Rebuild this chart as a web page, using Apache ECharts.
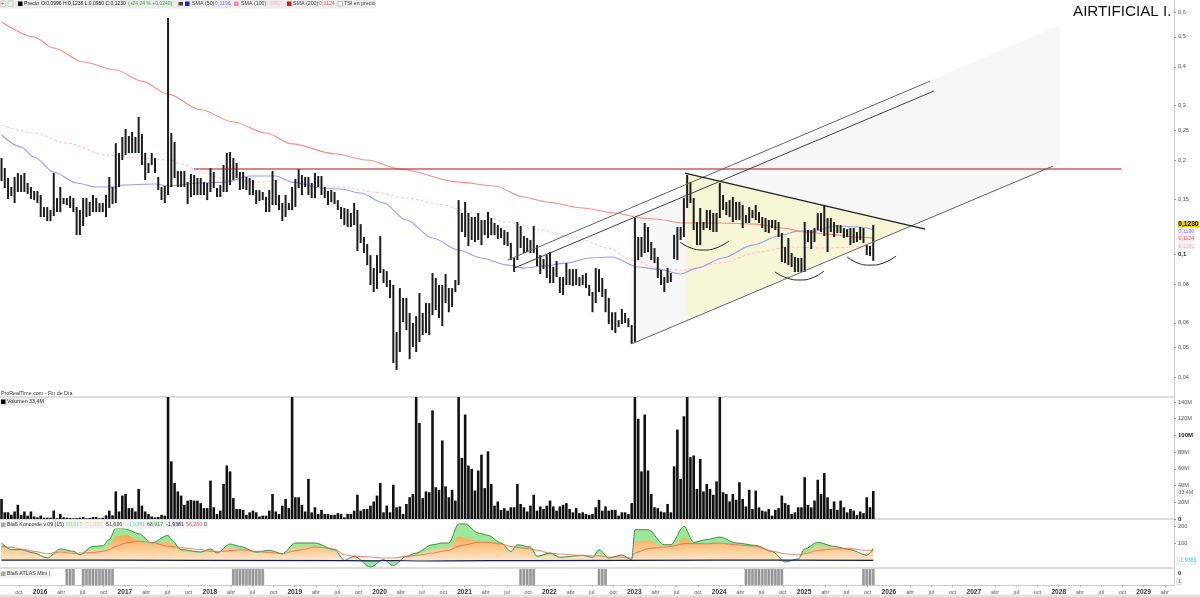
<!DOCTYPE html>
<html>
<head>
<meta charset="utf-8">
<style>html,body{margin:0;padding:0;background:#fff}#main{width:1200px;height:597px}</style>
<script src="https://cdn.jsdelivr.net/npm/echarts@6/dist/echarts.min.js"></script>
</head>
<body>
<div id="main"></div>
<script>
// barras quincenales, 26 por año
var startYear = 2015.546;
function yr(i) { return startYear + i / 26; }

var highs = [
.2035,.1890,.1755,.1642,.1768,.1821,.1794,.1821,.1691,.1642,
.1594,.1594,.1547,.1415,.1415,.1384,.1821,.1513,.1642,.1513,
.1513,.1536,.1513,.1415,.1384,.1513,.1513,.1469,.1547,.1513,
.1458,.1458,.1547,.1768,.1642,.2274,.2113,.2378,.2524,.2396,
.2470,.2378,.2759,.2431,.2113,.1961,.2113,.2035,.1768,.1642,
.1654,.5750,.2449,.2292,.1848,.1848,.1848,.1703,.1808,.1794,
.1755,.1755,.1703,.1691,.1890,.1835,.1630,.1666,.1932,.2113,
.2129,.2035,.1961,.1835,.1835,.1768,.1755,.1729,.1605,.1605,
.1582,.1524,.1605,.1848,.1729,.1547,.1458,.1547,.1458,.1642,
.1742,.1876,.1794,.1768,.1768,.1691,.1821,.1781,.1781,.1642,
.1594,.1605,.1582,.1490,.1415,.1405,.1394,.1354,.1458,.1384,
.1247,.1133,.1076,.0991,.0900,.0991,.1141,.0893,.0880,.0824,
.0794,.0560,.0776,.0721,.0721,.0645,.0599,.0630,.0748,.0645,
.0694,.0694,.0867,.0836,.0794,.0794,.0861,.0776,.0776,.0824,
.1490,.1354,.1469,.1354,.1314,.1314,.1354,.1285,.1285,.1364,
.1304,.1257,.1238,.1211,.1193,.1176,.1084,.0970,.1266,.1229,
.1141,.1125,.1108,.1229,.1067,.0991,.0962,.0991,.1013,.0907,
.0948,.0842,.0842,.0934,.0893,.0893,.0893,.0842,.0855,.0867,
.0794,.0754,.0900,.0893,.0836,.0771,.0721,.0649,.0649,.0612,
.0664,.0645,.0621,.0590,.1304,.1133,.1133,.1257,.1220,.1092,
.1044,.0977,.0887,.0842,.0900,.0867,.1150,.1220,.1220,.1513,
.1794,.1703,.1513,.1266,.1405,.1266,.1384,.1384,.1354,.1354,
.1691,.1547,.1469,.1490,.1524,.1469,.1469,.1436,.1333,.1415,
.1384,.1436,.1364,.1314,.1304,.1285,.1285,.1285,.1266,.1167,
.1052,.1125,.1006,.0977,.0970,.0970,.1266,.1193,.1193,.1211,
.1354,.1354,.1436,.1304,.1304,.1266,.1238,.1238,.1211,.1202,
.1211,.1211,.1176,.1220,.1211,.1067,.1060,.1238];

var lows = [
.1716,.1630,.1502,.1536,.1458,.1582,.1582,.1582,.1559,.1502,
.1490,.1458,.1314,.1314,.1276,.1276,.1324,.1364,.1364,.1447,
.1436,.1405,.1364,.1150,.1150,.1229,.1314,.1324,.1364,.1364,
.1364,.1364,.1314,.1405,.1447,.1458,.1642,.2005,.2081,.2113,
.2113,.2113,.2113,.1932,.1729,.1821,.1932,.1821,.1605,.1490,
.1458,.1547,.1642,.1755,.1642,.1642,.1642,.1447,.1524,.1547,
.1547,.1547,.1547,.1490,.1582,.1630,.1524,.1524,.1582,.1582,
.1666,.1729,.1755,.1605,.1618,.1605,.1547,.1547,.1447,.1480,
.1490,.1364,.1364,.1436,.1436,.1384,.1276,.1314,.1384,.1384,
.1415,.1630,.1547,.1642,.1547,.1513,.1513,.1642,.1547,.1513,
.1436,.1469,.1447,.1384,.1295,.1238,.1220,.1220,.1238,.1021,
.1084,.1006,.0920,.0794,.0754,.0771,.0867,.0806,.0782,.0721,
.0445,.0423,.0483,.0603,.0568,.0458,.0501,.0483,.0520,.0548,
.0556,.0548,.0635,.0659,.0621,.0585,.0694,.0649,.0674,.0754,
.0794,.1176,.1133,.1060,.1108,.1092,.1108,.1067,.1150,.1125,
.1150,.1150,.1116,.1125,.1067,.1060,.0955,.0874,.0955,.1044,
.1006,.1013,.1006,.1006,.0914,.0861,.0893,.0836,.0806,.0806,
.0842,.0748,.0737,.0794,.0794,.0788,.0794,.0788,.0794,.0776,
.0732,.0649,.0694,.0754,.0726,.0649,.0594,.0568,.0556,.0581,
.0594,.0599,.0581,.0513,.0520,.0955,.0977,.1006,.1013,.0955,
.0934,.0836,.0794,.0754,.0806,.0812,.0962,.0955,.1108,.1133,
.1405,.1458,.1193,.1067,.1067,.1193,.1211,.1193,.1176,.1176,
.1304,.1384,.1333,.1314,.1266,.1285,.1285,.1211,.1257,.1257,
.1304,.1285,.1257,.1211,.1176,.1167,.1211,.1193,.1133,.0941,
.0934,.0920,.0907,.0874,.0874,.0874,.0874,.1092,.1036,.1092,
.1193,.1176,.1141,.1013,.1176,.1133,.1167,.1167,.1125,.1133,
.1067,.1084,.1092,.1108,.1084,.0991,.0984,.0950];

// volumen en millones (los picos se salen del panel)
var volumes = [
24,8,8,5,9,17,5,9,4,9,
3,2,4,1.6,1.6,1.6,10,1,6,2,
1.6,1.2,.8,1.2,1.6,2.4,.8,1.2,2.4,2.4,
.8,1.6,4.4,10,4.4,33,9,28,30,13,
13,9,36,16,9,6,3,2,2.4,5,
4,170,69,43,33,28,17,22,23,22,
22,19,13,13,46,14,6,10,42,64,
57,25,12,12,11,5,8,10,8,3,
4,4,10,30,9,6,16,24,13,170,
26,26,17,9,48,8,14,6,11,6,
6,5,5,7,6,2,6,6,10,29,
10,12,12,16,21,28,43,8,16,8,
41,14,15,6,18,26,30,170,115,25,
33,32,130,38,35,94,39,26,35,22,
170,73,125,64,60,34,58,77,37,81,
42,16,21,11,13,10,14,14,42,18,
14,9,16,29,10,15,12,16,22,15,
10,15,17,19,12,8,13,7,8,6,
5,6,14,23,10,15,10,11,11,4,
8,8,6,19,170,120,57,125,58,30,
14,13,9,8,18,8,63,107,48,123,
170,74,76,36,72,33,42,36,29,45,
170,32,30,21,30,23,44,24,15,35,
12,34,14,10,9,12,4,11,13,28,
19,17,6,8,14,14,50,17,14,22,
47,30,55,26,12,21,11,22,14,8,
12,10,5,9,7,26,14,33.4];

// medias moviles: indice de barra y precio
var sma200Idx = [0,10,16,25,35,43,51,61,71,81,89,102,112,122,140,151,160,167,178,188,196,200,209,220,231,239,246,253,261,267];
var sma200 = [.558,.499,.460,.415,.391,.360,.327,.291,.266,.245,.226,.210,.2005,.1876,.1703,.1654,.1524,.1469,.1405,.1354,.1304,.1295,.1257,.1257,.1247,.1211,.1176,.1158,.1133,.1124];
var sma50Idx = [0,6,10,16,23,29,35,37,47,51,61,69,76,84,89,98,104,110,117,124,132,140,147,155,160,166,173,180,187,195,201,208,213,221,230,239,244,249,255,263,267];
var sma50 = [.2414,.2209,.2050,.1835,.1691,.1642,.1642,.1666,.1678,.1654,.1691,.1703,.1781,.1781,.1703,.1630,.1618,.1570,.1458,.1285,.1125,.1029,.0970,.0920,.0900,.0914,.0934,.0970,.0977,.0907,.0893,.0861,.0900,.0970,.1067,.1150,.1184,.1184,.1229,.1220,.1196];
var sma100Idx = [0,10,20,32,42,52,55,61,69,78,86,97,104,114,124,134,144,155,165,175,186,193,202,209,220,232,241,253,261,267];
var sma100 = [.260,.245,.2274,.2081,.2035,.2005,.1947,.1835,.1729,.1703,.1729,.1666,.1642,.1582,.1513,.1447,.1354,.1266,.1193,.1133,.1044,.0955,.0893,.0887,.0934,.1013,.1052,.1044,.1052,.1062];

// Koncorde: indice de barra y las tres curvas
var kIdx = [0,3,6,10,14,18,22,24,28,31,33,35,38,42,46,51,52,55,61,64,66,70,73,78,82,86,90,93,96,102,105,108,113,117,120,124,127,132,135,137,
140,142,146,149,153,156,158,162,164,168,171,178,181,183,186,190,193,194,198,203,205,209,212,216,220,225,231,236,240,244,246,250,255,260,265,267];
var kGreen = [100,61,61,41,12,65,51,31,80,84,120,188,182,155,100,145,120,61,47,65,41,94,80,47,57,37,100,100,100,61,-2,22,-41,2,-33,22,41,90,100,100,
212,212,159,145,100,51,90,76,22,41,16,27,16,61,12,29,2,178,178,90,90,198,104,120,135,100,86,51,-12,6,65,104,80,61,27,69];
var kOrange = [80,57,57,37,12,51,45,27,65,61,90,139,149,116,90,110,96,51,41,57,41,76,65,41,51,31,76,80,80,51,0,12,0,0,0,12,31,61,71,71,
139,129,110,104,96,45,71,65,16,31,12,25,12,41,8,25,2,110,116,80,80,129,96,100,100,84,76,45,0,2,41,80,76,57,31,52];
var kRed = [80,74,65,51,37,47,39,41,45,51,61,80,100,110,104,80,80,71,61,51,49,55,61,51,45,37,55,65,76,65,31,22,18,12,12,22,27,41,51,57,
80,90,104,104,94,80,74,65,57,41,35,27,25,24,18,16,12,41,67,76,80,96,96,96,100,90,80,51,37,31,37,57,65,67,57,56];
var kBlueIdx = [0,30,60,105,114,120,128,137,150,165,190,220,240,267];
var kBlue = [-1,-1,-2,-4,-5,-3,-6,-5,-4,-4,-2,-1,-1,-2];

// barras del ATLAS
var atlasIdx = [20,21,22,25,26,27,28,29,30,31,32,33,34,71,72,73,74,75,76,77,78,79,80,159,160,161,162,163,183,184,185,228,229,230,231,232,233,234,235,236,237,238,239,264,265,266,267];

// dibujos sobre el grafico: [indice de barra, precio]
var resistance = [[59,.1876],[343,.1876]];
var channelLow = [[193,.0513],[322,.1917]];
var channelTop = [[155,.0955],[284.4,.360]];
var channelMid = [[157,.0900],[285.6,.3345]];
var downTrend = [[209.3,.1821],[282.9,.1202]];
var arc1 = [[207.8,.1092],[210.8,.1048],[214.9,.1029],[218.8,.1044],[222.8,.1100]];
var arc2 = [[236.9,.0874],[240.6,.0836],[244.6,.0824],[248.2,.0836],[251.9,.0880]];
var arc3 = [[259,.0977],[262.3,.0934],[266,.0920],[270,.0934],[274,.0984]];
var greyZone = [[193,.0513],[324,.1932],[324,.546],[284,.360],[193,.1304]];
var yellowZone = [[209.3,.1821],[279,.1238],[209.6,.0617]];

// ticks
var priceTicks = [.6,.5,.4,.3,.25,.2,.15,.1,.08,.06,.05,.04];
var volumeTicks = [0,20,40,60,80,100,120,140];
var koncordeTicks = [100,200];
var quarterNames = { 0: '', 25: 'abr', 50: 'jul', 75: 'oct' };
var dateTicks = [];
for (var q = 2015.75; q <= 2029.25; q += 0.25) dateTicks.push(q);

var xMin = 2015.528, xMax = 2029.358;

function toYear(pts) { return pts.map(function (p) { return [yr(p[0]), p[1]]; }); }
function zip(idx, vals) { return idx.map(function (i, n) { return [yr(i), vals[n]]; }); }

function trendLine(pts, color, width, smooth) {
    return {
        type: 'line', xAxisIndex: 0, yAxisIndex: 0, data: toYear(pts), showSymbol: false, smooth: !!smooth, z: 6,
        silent: true, lineStyle: { color: color, width: width }
    };
}
function smaLine(idx, vals, color, dashed) {
    return {
        type: 'line', xAxisIndex: 0, yAxisIndex: 0, data: zip(idx, vals), showSymbol: false, z: 3, silent: true,
        smooth: 0.3, smoothMonotone: 'x',
        lineStyle: { color: color, width: 1.1, type: dashed ? [3, 2] : 'solid' }
    };
}
function zone(pts, color) {
    var data = toYear(pts);
    return {
        type: 'custom', xAxisIndex: 0, yAxisIndex: 0, data: [data[0]], z: 1, silent: true, clip: true,
        renderItem: function (params, api) {
            return { type: 'polygon', shape: { points: data.map(function (p) { return api.coord(p); }) }, style: { fill: color } };
        }
    };
}
function koncordeLine(vals, extra) {
    var s = {
        type: 'line', xAxisIndex: 2, yAxisIndex: 2, data: zip(kIdx, vals), showSymbol: false, silent: true,
        smooth: 0.3, smoothMonotone: 'x'
    };
    for (var k in extra) s[k] = extra[k];
    return s;
}

var labelStyle = { color: '#555', fontSize: 5.6, fontFamily: 'Liberation Sans' };
var font = '5.3px "Liberation Sans"';
var graphics = [];
function txt(x, y, s, color, f) {
    graphics.push({ type: 'text', silent: true, z: 50, style: { x: x, y: y, text: s, fill: color || '#333', font: f || font, textVerticalAlign: 'middle' } });
}
function box(x, y, w, h, fill, stroke) {
    graphics.push({ type: 'rect', silent: true, z: 49, shape: { x: x, y: y, width: w, height: h }, style: { fill: fill, stroke: stroke || null, lineWidth: 0.6 } });
}

// barra superior
box(0, 0, 376, 8.5, '#ececec');
box(0.5, 1, 5, 5.5, '#f4f4f4', '#bbb'); txt(1.2, 4, '+', '#d22');
box(8, 1, 5, 5.5, '#e4f4e4', '#bbb');
box(18, 1.5, 4.5, 4.5, '#000');
txt(24, 4, 'Precio', '#222');
txt(41, 4, 'O:0,0996 H:0,1238 L:0,0950 C:0,1230', '#222', '5px "Liberation Sans"');
txt(128, 4, '(+24,24 % +0,0240)', '#3a3', '5px "Liberation Sans"');
box(178.5, 2, 4.5, 3.5, '#444');
box(185, 1.5, 4.5, 4.5, '#22c');
txt(192, 4, 'SMA (50)', '#444'); txt(215, 4, '0,1196', '#77e');
box(234, 1.5, 4.5, 4.5, '#f8a');
txt(241, 4, 'SMA (100)', '#444'); txt(265, 4, '0,1062', '#fbd');
box(287, 1.5, 4.5, 4.5, '#e11');
txt(293, 4, 'SMA (200)', '#444'); txt(319, 4, '0,1124', '#f55');
box(338, 1.5, 4.5, 4.5, '#fff', '#999');
txt(344, 4, 'TSI en precio', '#444');

txt(1073, 11.5, 'AIRTIFICIAL I.', '#111', '15.2px "Liberation Sans"');

// etiquetas de los valores a la derecha
box(1178, 221, 21, 6.5, '#f5d000');
txt(1178.3, 224.3, '0,1230', '#000', 'bold 6.6px "Liberation Sans"');
box(1178, 228, 16.5, 6.5, '#eeeef4'); txt(1178.5, 231.3, '0,1196', '#88e');
box(1178, 235.5, 16.5, 6.5, '#f2eeee'); txt(1178.5, 238.8, '0,1124', '#f55');
box(1178, 243, 16.5, 6.5, '#f2eef0'); txt(1178.5, 246.3, '0,1062', '#fbd');
box(1177, 489, 16, 7, '#fafafa', '#ccc'); txt(1178.5, 492.5, '33,4M', '#666');
box(1177, 557.5, 19, 7, '#fafafa', '#cde'); txt(1178.5, 561, '-1,9381', '#4cc');
box(1177, 578, 4, 7, '#fafafa', '#ccc'); txt(1178, 581.5, '1', '#666');

// leyendas de los paneles
txt(1, 394, 'ProRealTime.com - Fin de Día', '#333');
box(0, 398, 46, 8, '#ececec');
box(1, 399.5, 4.5, 4.5, '#000'); txt(7, 402, 'Volumen 33,4M', '#333');
box(0, 520.5, 208, 8, '#f2f2f2');
box(1, 522.5, 4.5, 4.5, '#aaa'); txt(7, 525, 'Blaß Koncorde v.09 (15)', '#333');
txt(66, 525, '68,917', '#8e8'); txt(86, 525, '51,636', '#fc9'); txt(106, 525, '51,636', '#543');
txt(127, 525, '-1,9381', '#6dd'); txt(147, 525, '68,917', '#383'); txt(166, 525, '-1,9381', '#226');
txt(186, 525, '56,266', '#f55'); txt(204, 525, '0', '#333');
box(0, 570, 52, 8, '#f2f2f2');
box(1, 571.5, 4.5, 4.5, '#aaa'); txt(7, 574, 'Blaß ATLAS Mini', '#333'); txt(49, 574, '|', '#555');

box(0, 594.5, 1200, 2.5, '#e2e2e2');

var option = {
    animation: false,
    backgroundColor: '#fff',
    graphic: graphics,
    grid: [
        { left: 0, right: 26, top: 0, height: 397 },
        { left: 0, right: 26, top: 397, height: 122 },
        { left: 0, right: 26, top: 519, height: 49 },
        { left: 0, right: 26, top: 569, height: 16 }
    ],
    xAxis: [0, 1, 2, 3].map(function (n) {
        return {
            type: 'value', gridIndex: n, min: xMin, max: xMax, splitLine: { show: false },
            axisLine: { show: true, onZero: false, lineStyle: { color: n === 3 ? '#ccc' : '#ddd', width: n === 3 ? 1 : 2 } },
            axisTick: n === 3 ? { show: true, customValues: dateTicks, length: 2, lineStyle: { color: '#bbb' } } : { show: false },
            axisLabel: n === 3 ? {
                show: true, customValues: dateTicks, margin: 4, hideOverlap: false,
                fontFamily: 'Liberation Sans', fontSize: 5.5, color: '#555',
                rich: { y: { fontWeight: 'bold', fontSize: 6.6, color: '#333', fontFamily: 'Liberation Sans' } },
                formatter: function (v) {
                    var yy = Math.floor(v + 1e-6), part = Math.round((v - yy) * 100);
                    return part === 0 ? '{y|' + yy + '}' : quarterNames[part];
                }
            } : { show: false }
        };
    }),
    yAxis: [
        {
            type: 'log', logBase: 10, gridIndex: 0, position: 'right', min: 0.0346, max: 0.657, splitLine: { show: false },
            axisLine: { show: true, lineStyle: { color: '#ccc' } },
            axisTick: { show: true, length: 2, customValues: priceTicks, lineStyle: { color: '#999' } },
            axisLabel: Object.assign({}, labelStyle, {
                margin: 4, customValues: priceTicks,
                rich: { b: { fontWeight: 'bold', fontSize: 6, color: '#222', fontFamily: 'Liberation Sans' } },
                formatter: function (v) {
                    var s = String(+(+v).toFixed(3)).replace('.', ',');
                    return (+v).toFixed(3) === '0.100' ? '{b|' + s + '}' : s;
                }
            })
        },
        {
            type: 'value', gridIndex: 1, position: 'right', min: 0, max: 146, splitLine: { show: false },
            axisLine: { show: true, lineStyle: { color: '#ccc' } },
            axisTick: { show: true, length: 2, customValues: volumeTicks, lineStyle: { color: '#999' } },
            axisLabel: Object.assign({}, labelStyle, {
                margin: 4, customValues: volumeTicks, alignMinLabel: 'bottom',
                rich: { b: { fontWeight: 'bold', fontSize: 6, color: '#222', fontFamily: 'Liberation Sans' } },
                formatter: function (v) { return v === 0 ? '{b|0}' : v === 100 ? '{b|100M}' : v + 'M'; }
            })
        },
        {
            type: 'value', gridIndex: 2, position: 'right', min: -47, max: 241, splitLine: { show: false },
            axisLine: { show: true, lineStyle: { color: '#ccc' } },
            axisTick: { show: true, length: 2, customValues: koncordeTicks, lineStyle: { color: '#999' } },
            axisLabel: Object.assign({}, labelStyle, { margin: 4, customValues: koncordeTicks })
        },
        {
            type: 'value', gridIndex: 3, position: 'right', min: 0, max: 1, splitLine: { show: false },
            axisLine: { show: true, lineStyle: { color: '#ccc' } },
            axisTick: { show: false },
            axisLabel: Object.assign({}, labelStyle, {
                margin: 4, customValues: [0.75], fontWeight: 'bold', color: '#222',
                formatter: function () { return '0'; }
            })
        }
    ],
    series: [
        zone(greyZone, '#f7f7f7'),
        zone(yellowZone, '#f6f5d6'),
        smaLine(sma100Idx, sma100, '#ffc4da', true),
        smaLine(sma50Idx, sma50, '#9c9cf0', false),
        smaLine(sma200Idx, sma200, '#ff8a8a', false),
        {
            type: 'custom', xAxisIndex: 0, yAxisIndex: 0, z: 4, silent: true,
            encode: { x: 0, y: [1, 2] },
            data: highs.map(function (h, i) { return [yr(i), h, lows[i]]; }),
            renderItem: function (params, api) {
                var t = api.coord([api.value(0), api.value(1)]);
                var b = api.coord([api.value(0), api.value(2)]);
                return { type: 'line', shape: { x1: t[0], y1: t[1], x2: b[0], y2: b[1] }, style: { stroke: '#1c1c1c', lineWidth: 2 } };
            }
        },
        trendLine(resistance, '#b80e0e', 1.1),
        trendLine(channelLow, '#666', 1),
        trendLine(channelTop, '#666', 1),
        trendLine(channelMid, '#444', 1),
        trendLine(downTrend, '#222', 1.3),
        trendLine(arc1, '#222', 1, true),
        trendLine(arc2, '#222', 1, true),
        trendLine(arc3, '#222', 1, true),
        {
            type: 'bar', xAxisIndex: 1, yAxisIndex: 1, barWidth: 2.6, silent: true,
            itemStyle: { color: '#111' },
            data: volumes.map(function (v, i) { return [yr(i), v]; })
        },
        koncordeLine(kGreen, { z: 2, lineStyle: { width: 0 }, areaStyle: { color: '#9be89b', opacity: 1, origin: 0 } }),
        koncordeLine(kOrange, {
            z: 3, lineStyle: { width: 0 },
            areaStyle: {
                opacity: 1, origin: 0,
                color: new echarts.graphic.LinearGradient(0, 0, 0, 1, [{ offset: 0, color: '#f6a64e' }, { offset: 1, color: '#fde6c6' }])
            }
        }),
        koncordeLine(kGreen, { z: 4, lineStyle: { color: '#3f8f3f', width: 1 } }),
        koncordeLine(kRed, { z: 5, lineStyle: { color: '#f56a52', width: 1.1, opacity: 0.8 } }),
        {
            type: 'line', xAxisIndex: 2, yAxisIndex: 2, data: zip(kBlueIdx, kBlue), showSymbol: false, z: 5, silent: true,
            lineStyle: { color: '#141a5c', width: 1.2 }
        },
        {
            type: 'bar', xAxisIndex: 3, yAxisIndex: 3, barWidth: 2.5, silent: true,
            itemStyle: { color: '#999', borderColor: '#777', borderWidth: 0.4 },
            data: atlasIdx.map(function (i) { return [yr(i), 1]; })
        }
    ]
};

var myChart = echarts.init(document.getElementById('main'));
myChart.setOption(option);
</script>
</body>
</html>
